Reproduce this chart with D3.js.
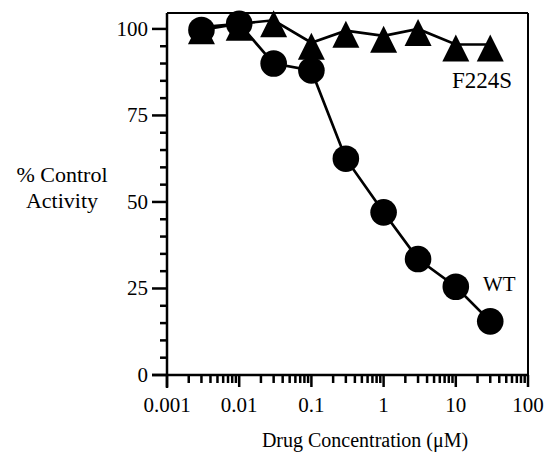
<!DOCTYPE html>
<html>
<head>
<meta charset="utf-8">
<script src="https://d3js.org/d3.v7.min.js"></script>
<style>
    body { margin: 0; background: #fff; }
</style>
</head>
<body>
<svg id="chart" width="552" height="453"></svg>
<script>
// data
let concentrations = [0.003, 0.01, 0.03, 0.1, 0.3, 1, 3, 10, 30];
let wtValues = [99.7, 101.5, 90, 88, 62.5, 47, 33.5, 25.5, 15.5];
let f224sValues = [100.5, 101.5, 102.5, 96, 99.5, 98, 100, 95.5, 95.5];
let xTickValues = [0.001, 0.01, 0.1, 1, 10, 100];
let xTickLabels = ["0.001", "0.01", "0.1", "1", "10", "100"];
let yTickValues = [0, 25, 50, 75, 100];

const FONT = "Liberation Serif";

let svg = d3.select("#chart");

let x = d3.scaleLog().domain([0.001, 100]).range([167, 528]);
let y = d3.scaleLinear().domain([0, 104.6]).range([375, 13]);

// frame: top and right border
svg.append("line")
   .attr("x1", x(0.001)).attr("x2", x(100))
   .attr("y1", y(104.6)).attr("y2", y(104.6))
   .attr("stroke", "#000").attr("stroke-width", 2);
svg.append("line")
   .attr("x1", x(100)).attr("x2", x(100))
   .attr("y1", y(104.6)).attr("y2", y(0))
   .attr("stroke", "#000").attr("stroke-width", 2);

// y axis
let yMinor = d3.range(5, 105, 5).filter(d => d % 25 !== 0);
let yAxis = svg.append("g");
yAxis.append("line")
     .attr("x1", x(0.001)).attr("x2", x(0.001))
     .attr("y1", y(104.6)).attr("y2", y(0) + 13)
     .attr("stroke", "#000").attr("stroke-width", 2.5);
yAxis.selectAll(".ymajor")
     .data(yTickValues)
     .enter()
     .append("line")
     .attr("class", "ymajor")
     .attr("x1", x(0.001) - 15).attr("x2", x(0.001))
     .attr("y1", d => y(d)).attr("y2", d => y(d))
     .attr("stroke", "#000").attr("stroke-width", 2.5);
yAxis.selectAll(".yminor")
     .data(yMinor)
     .enter()
     .append("line")
     .attr("class", "yminor")
     .attr("x1", x(0.001) - 7).attr("x2", x(0.001))
     .attr("y1", d => y(d)).attr("y2", d => y(d))
     .attr("stroke", "#000").attr("stroke-width", 2.5);
yAxis.selectAll(".ylabel")
     .data(yTickValues)
     .enter()
     .append("text")
     .attr("x", 148)
     .attr("y", d => y(d) + 7)
     .attr("text-anchor", "end")
     .attr("font-family", FONT)
     .attr("font-size", 21)
     .text(d => d);

// x axis
let xMinor = [];
for (let dec = 0.001; dec < 100; dec *= 10) {
    for (let k = 2; k <= 9; k++) xMinor.push(dec * k);
}
let xAxis = svg.append("g");
xAxis.append("line")
     .attr("x1", x(0.001) - 15).attr("x2", x(100))
     .attr("y1", y(0)).attr("y2", y(0))
     .attr("stroke", "#000").attr("stroke-width", 2.5);
xAxis.selectAll(".xmajor")
     .data(xTickValues)
     .enter()
     .append("line")
     .attr("class", "xmajor")
     .attr("x1", d => x(d)).attr("x2", d => x(d))
     .attr("y1", y(0)).attr("y2", y(0) + 12)
     .attr("stroke", "#000").attr("stroke-width", 2.5);
xAxis.selectAll(".xminor")
     .data(xMinor)
     .enter()
     .append("line")
     .attr("class", "xminor")
     .attr("x1", d => x(d)).attr("x2", d => x(d))
     .attr("y1", y(0)).attr("y2", y(0) + 8)
     .attr("stroke", "#000").attr("stroke-width", 2.5);
xAxis.selectAll(".xlabel")
     .data(xTickValues)
     .enter()
     .append("text")
     .attr("x", d => x(d))
     .attr("y", 412)
     .attr("text-anchor", "middle")
     .attr("font-family", FONT)
     .attr("font-size", 21)
     .text((d, i) => xTickLabels[i]);

// axis titles
let yTitle = svg.append("text")
                .attr("text-anchor", "middle")
                .attr("font-family", FONT)
                .attr("font-size", 22);
yTitle.append("tspan").attr("x", 62).attr("y", 182).text("% Control");
yTitle.append("tspan").attr("x", 62).attr("y", 208).text("Activity");

svg.append("text")
   .attr("x", 365)
   .attr("y", 447)
   .attr("text-anchor", "middle")
   .attr("font-family", FONT)
   .attr("font-size", 20)
   .text("Drug Concentration (\u03BCM)");

// series
let line = d3.line()
             .x(d => x(d[0]))
             .y(d => y(d[1]));

let wt = concentrations.map((c, i) => [c, wtValues[i]]);
let f224s = concentrations.map((c, i) => [c, f224sValues[i]]);

svg.append("path")
   .datum(wt)
   .attr("d", line)
   .attr("fill", "none")
   .attr("stroke", "#000")
   .attr("stroke-width", 2.7);

svg.append("path")
   .datum(f224s)
   .attr("d", line)
   .attr("fill", "none")
   .attr("stroke", "#000")
   .attr("stroke-width", 2.7);

// triangle marker, drawn a little below its data point like the original
let triangle = "M0,-10L13.5,17L-13.5,17Z";
svg.selectAll(".f224s")
   .data(f224s)
   .enter()
   .append("path")
   .attr("class", "f224s")
   .attr("transform", d => "translate(" + x(d[0]) + "," + y(d[1]) + ")")
   .attr("d", triangle)
   .attr("fill", "#000");

svg.selectAll(".wt")
   .data(wt)
   .enter()
   .append("circle")
   .attr("class", "wt")
   .attr("cx", d => x(d[0]))
   .attr("cy", d => y(d[1]))
   .attr("r", 13.3)
   .attr("fill", "#000");

// series labels
svg.append("text")
   .attr("x", 452)
   .attr("y", 88)
   .attr("font-family", FONT)
   .attr("font-size", 23)
   .text("F224S");

svg.append("text")
   .attr("x", 483)
   .attr("y", 291)
   .attr("font-family", FONT)
   .attr("font-size", 21)
   .text("WT");
</script>
</body>
</html>
